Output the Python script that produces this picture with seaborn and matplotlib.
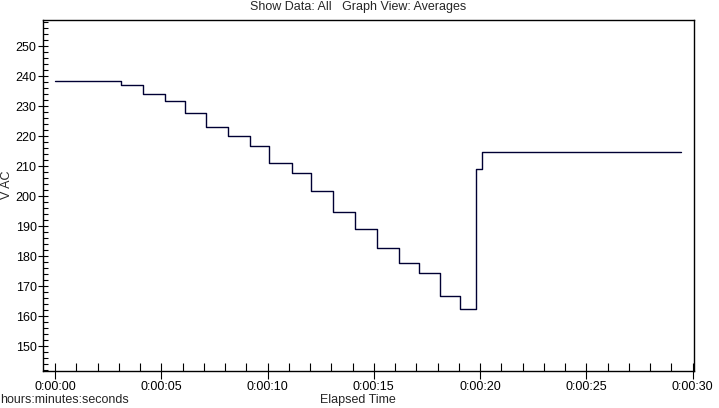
import matplotlib
matplotlib.use('Agg')
import matplotlib.pyplot as plt
import matplotlib.ticker as mticker
import pandas as pd
import seaborn as sns

# tiempos (segundos) donde cambia el promedio y el valor de voltaje
tiempo_s = [0.0, 3.1, 4.16, 5.19, 6.13, 7.12, 8.16, 9.19, 10.09, 11.17, 12.06,
            13.1, 14.13, 15.17, 16.17, 17.11, 18.13, 19.07, 19.83, 20.11, 29.44]
voltaje = [238.4, 237.0, 234.0, 231.8, 227.7, 223.3, 220.3, 216.7, 211.3, 207.7,
           201.7, 194.7, 189.0, 182.7, 177.8, 174.4, 166.7, 162.4, 209.0, 214.7, 214.7]

titulo = 'Show Data: All   Graph View: Averages'
etiqueta_x = 'Elapsed Time'
etiqueta_y = 'V AC'
unidades = 'hours:minutes:seconds'

df = pd.DataFrame({'t': tiempo_s, 'v': voltaje})

sns.set_style('ticks')
plt.rcParams['font.family'] = ['Liberation Sans', 'DejaVu Sans']

fig = plt.figure(figsize=(7.19, 4.08), dpi=100)
ax = fig.add_axes([43 / 719, 1 - 371 / 408, (694 - 43) / 719, (371 - 20) / 408])

sns.lineplot(data=df, x='t', y='v', ax=ax, color='#000033', linewidth=1.0,
             drawstyle='steps-post', estimator=None, sort=False)

ax.set_xlim(-0.565, 30.07)
ax.set_ylim(141.8, 258.8)

# formato h:mm:ss
def fmt_tiempo(x, pos):
    s = int(round(x))
    return '%d:%02d:%02d' % (s // 3600, (s % 3600) // 60, s % 60)

ax.xaxis.set_major_locator(mticker.MultipleLocator(5))
ax.xaxis.set_minor_locator(mticker.MultipleLocator(1))
ax.xaxis.set_major_formatter(mticker.FuncFormatter(fmt_tiempo))
ax.yaxis.set_major_locator(mticker.MultipleLocator(10))
ax.yaxis.set_minor_locator(mticker.MultipleLocator(2))

ax.tick_params(axis='both', which='both', width=0.8, labelsize=9, colors='black')
ax.tick_params(axis='x', which='major', direction='inout', length=12.2, pad=1)
ax.tick_params(axis='x', which='minor', direction='in', length=5.8)
ax.tick_params(axis='y', which='major', direction='inout', length=7.2, pad=1)
ax.tick_params(axis='y', which='minor', direction='in', length=3.6)

for sp in ax.spines.values():
    sp.set_visible(True)
    sp.set_color('black')
    sp.set_linewidth(1.0)

ax.set_xlabel('')
ax.set_ylabel('')
fig.text(358 / 719, 1 - 7 / 408, titulo, ha='center', va='center', fontsize=9)
fig.text(358 / 719, 1 - 400 / 408, etiqueta_x, ha='center', va='center', fontsize=9)
fig.text(0.0, 1 - 400 / 408, unidades, ha='left', va='center', fontsize=9)
fig.text(7 / 719, 1 - 185 / 408, etiqueta_y, ha='center', va='center', rotation=90, fontsize=9)

fig.savefig('out.png', dpi=100)
